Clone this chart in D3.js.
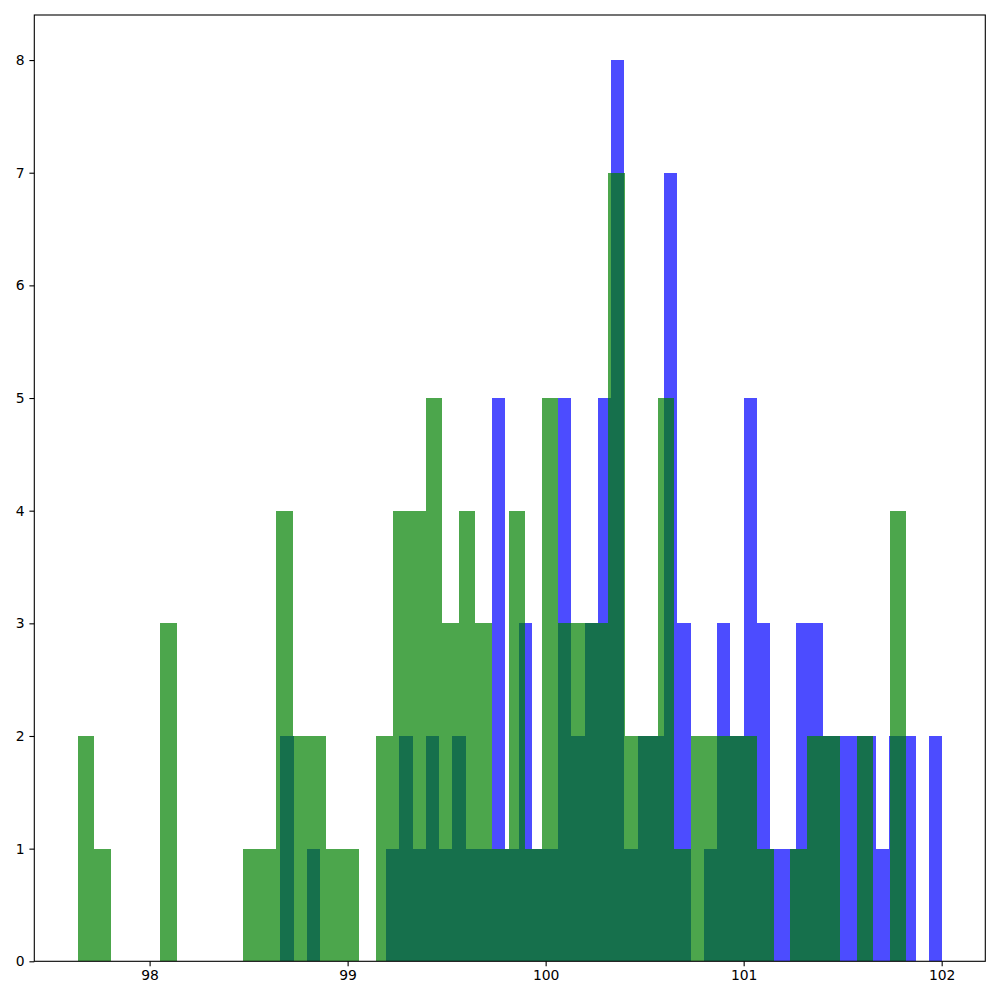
<!DOCTYPE html>
<html>
<head>
<meta charset="utf-8">
<script src="https://cdn.jsdelivr.net/npm/d3@7"></script>
<style>
  body { margin: 0; background: #fff; }
  svg { display: block; }
  .tick text { font-family: "DejaVu Sans", sans-serif; font-size: 13.9px; fill: #000; }
</style>
</head>
<body>
<script>
// histogram counts per bin
const blueCounts = [2, 0, 1, 0, 0, 0, 0, 0, 1, 2,
                    1, 2, 1, 2, 1, 1, 5, 1, 3, 1,
                    1, 5, 2, 3, 5, 8, 1, 2, 2, 7,
                    3, 0, 1, 3, 2, 5, 3, 1, 1, 3,
                    3, 2, 2, 2, 2, 1, 2, 2, 0, 2];
const greenCounts = [2, 1, 0, 0, 0, 3, 0, 0, 0, 0,
                     1, 1, 4, 2, 2, 1, 1, 0, 2, 4,
                     4, 5, 3, 4, 3, 1, 4, 1, 5, 3,
                     3, 3, 7, 2, 2, 5, 1, 2, 2, 2,
                     2, 1, 0, 1, 2, 2, 0, 2, 0, 4];
// data min / max of each series (bin edges span these)
const blueRange = [98.660, 102.002];
const greenRange = [97.636, 101.822];
const xTicks = [98, 99, 100, 101, 102];
const yTicks = [0, 1, 2, 3, 4, 5, 6, 7, 8];

const width = 1000, height = 1000;
const margin = { top: 15, right: 14.7, bottom: 38.7, left: 34.3 };

// 把计数转换成 bin 对象
function toBins(counts, range) {
    const step = (range[1] - range[0]) / counts.length;
    return counts.map((c, i) => ({ x0: range[0] + i * step, x1: range[0] + (i + 1) * step, count: c }));
}

const blueBins = toBins(blueCounts, blueRange);
const greenBins = toBins(greenCounts, greenRange);

const lo = Math.min(blueRange[0], greenRange[0]);
const hi = Math.max(blueRange[1], greenRange[1]);
const pad = (hi - lo) * 0.05;
const maxCount = d3.max(blueCounts.concat(greenCounts));

const x = d3.scaleLinear().domain([lo - pad, hi + pad]).range([margin.left, width - margin.right]);
const y = d3.scaleLinear().domain([0, maxCount * 1.05]).range([height - margin.bottom, margin.top]);

const svg = d3.select('body').append('svg')
    .attr('width', width)
    .attr('height', height);

const chart = svg.append('g').attr('class', 'h-chart');

// 画直方图柱子
function drawHist(bins, color) {
    chart.append('g').attr('fill', color).attr('fill-opacity', 0.7)
        .selectAll('rect').data(bins.filter(d => d.count > 0)).join('rect')
        .attr('x', d => x(d.x0))
        .attr('y', d => y(d.count))
        .attr('width', d => x(d.x1) - x(d.x0))
        .attr('height', d => y(0) - y(d.count))
        .attr('shape-rendering', 'crispEdges');
}

drawHist(blueBins, 'rgb(0,0,255)');
drawHist(greenBins, 'rgb(0,128,0)');

// x轴
chart.append('g')
    .attr('transform', `translate(0,${height - margin.bottom})`)
    .call(d3.axisBottom(x).tickValues(xTicks).tickFormat(d3.format('d')).tickSizeInner(4.9).tickSizeOuter(0).tickPadding(4.2))
    .call(g => g.select('.domain').remove())
    .call(g => g.selectAll('.tick line').attr('stroke', '#000').attr('stroke-width', 1.1));

// y轴
chart.append('g')
    .attr('transform', `translate(${margin.left},0)`)
    .call(d3.axisLeft(y).tickValues(yTicks).tickFormat(d3.format('d')).tickSizeInner(4.9).tickSizeOuter(0).tickPadding(4.9))
    .call(g => g.select('.domain').remove())
    .call(g => g.selectAll('.tick line').attr('stroke', '#000').attr('stroke-width', 1.1));

// 外框
chart.append('rect')
    .attr('x', margin.left)
    .attr('y', margin.top)
    .attr('width', width - margin.left - margin.right)
    .attr('height', height - margin.top - margin.bottom)
    .attr('fill', 'none')
    .attr('stroke', '#000')
    .attr('stroke-width', 1.1);
</script>
</body>
</html>
